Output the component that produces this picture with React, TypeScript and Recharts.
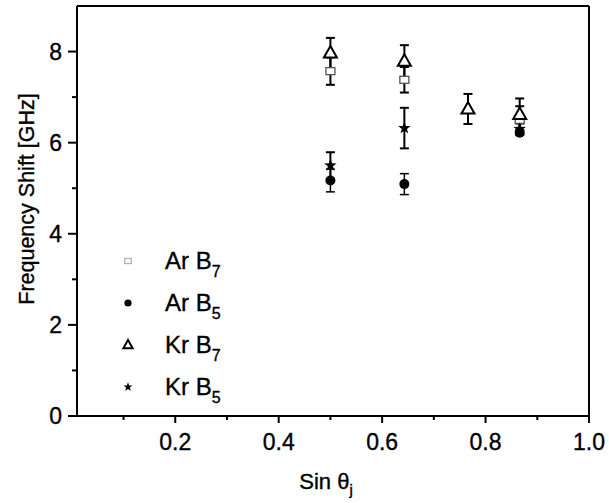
import { ScatterChart, Scatter, XAxis, YAxis, ErrorBar, Label } from "recharts";

const FONT = "Arial, 'Liberation Sans', Helvetica, sans-serif";

// axis ticks
const xMajor = [0.2, 0.4, 0.6, 0.8, 1.0];
const xMinor = [0.1, 0.3, 0.5, 0.7, 0.9];
const yMajor = [0, 2, 4, 6, 8];
const yMinor = [1, 3, 5, 7];

// sin(theta_i) of the measured points
const arB7X = [0.5, 0.643, 0.866];
const arB7Y = [7.57, 7.38, 6.5];
const arB7Err = [0.3, 0.28, 0.3];

const arB5X = [0.5, 0.643, 0.866];
const arB5Y = [5.17, 5.09, 6.22];
const arB5Err = [0.25, 0.23, 0.05];

const krB7X = [0.5, 0.643, 0.766, 0.866];
const krB7Y = [7.97, 7.79, 6.74, 6.62];
const krB7Err = [0.33, 0.35, 0.33, 0.35];

const krB5X = [0.5, 0.643, 0.866];
const krB5Y = [5.5, 6.32, 6.3];
const krB5Err = [0.29, 0.445, 0.12];

const legendNames = [
  { name: "Ar", sub: "7", shape: "square" },
  { name: "Ar", sub: "5", shape: "circle" },
  { name: "Kr", sub: "7", shape: "triangle" },
  { name: "Kr", sub: "5", shape: "star" },
];

const toRows = (xs: number[], ys: number[], es: number[]) =>
  xs.map((x, i) => ({ x, y: ys[i], err: es[i] }));

const arB7 = toRows(arB7X, arB7Y, arB7Err);
const arB5 = toRows(arB5X, arB5Y, arB5Err);
const krB7 = toRows(krB7X, krB7Y, krB7Err);
const krB5 = toRows(krB5X, krB5Y, krB5Err);

function starPath(cx: number, cy: number, ro: number, ri: number) {
  let d = "";
  for (let i = 0; i < 10; i++) {
    const r = i % 2 === 0 ? ro : ri;
    const a = -Math.PI / 2 + (i * Math.PI) / 5;
    d += (i === 0 ? "M" : "L") + (cx + r * Math.cos(a)).toFixed(2) + "," + (cy + r * Math.sin(a)).toFixed(2);
  }
  return d + "Z";
}

function Marker({ kind, cx, cy, small }: { kind: string; cx: number; cy: number; small?: boolean }) {
  const k = small ? 0.72 : 1;
  if (kind === "square") {
    const w = 9 * k, h = 7 * k;
    return (
      <rect x={cx - w / 2} y={cy - h / 2} width={w} height={h} fill="#fff"
        stroke={small ? "#b0b0b0" : "#555"} strokeWidth={1.3} />
    );
  }
  if (kind === "circle") return <circle cx={cx} cy={cy} r={5 * k} fill="#000" />;
  if (kind === "triangle") {
    const hw = 6.5 * k, h = 11.5 * k;
    return (
      <path d={`M${cx},${cy - h * 0.6}L${cx + hw},${cy + h * 0.4}L${cx - hw},${cy + h * 0.4}Z`}
        fill="#fff" stroke="#000" strokeWidth={2} strokeLinejoin="miter" />
    );
  }
  return <path d={starPath(cx, cy, 6.5 * k, 2.7 * k)} fill="#000" />;
}

// scanned original has slightly heavy glyphs
const heavy = { stroke: "#000", strokeWidth: 0.35 };
const tickText = { fontSize: 23, fontFamily: FONT, fill: "#000", ...heavy };

function BottomTick({ x, y, payload }: any) {
  const major = xMajor.includes(payload.value);
  return (
    <g>
      <line x1={x} y1={y} x2={x} y2={y + (major ? 7 : 4)} stroke="#000" strokeWidth={2} />
      {major && (
        <text x={x} y={y + 34} textAnchor="middle" {...tickText}>
          {payload.value.toFixed(1)}
        </text>
      )}
    </g>
  );
}

function TopTick({ x, y, payload }: any) {
  const major = xMajor.includes(payload.value);
  return <line x1={x} y1={y} x2={x} y2={y + (major ? 7 : 4)} stroke="#000" strokeWidth={2} />;
}

function LeftTick({ x, y, payload }: any) {
  const major = yMajor.includes(payload.value);
  return (
    <g>
      <line x1={x - (major ? 9 : 5)} y1={y} x2={x} y2={y} stroke="#000" strokeWidth={2} />
      {major && (
        <text x={x - 15} y={y + 8} textAnchor="end" {...tickText}>
          {payload.value}
        </text>
      )}
    </g>
  );
}

function RightTick({ x, y, payload }: any) {
  const major = yMajor.includes(payload.value);
  return <line x1={x - (major ? 8 : 4)} y1={y} x2={x} y2={y} stroke="#000" strokeWidth={2} />;
}

const XTitle = ({ viewBox }: any) => {
  const { x, y, width } = viewBox;
  return (
    <text x={x + width / 2 - 7} y={y + 73} textAnchor="middle" fontSize={22} fontFamily={FONT} fill="#000" {...heavy}>
      Sin θ<tspan dy={6} fontSize={15}>j</tspan>
    </text>
  );
};

const YTitle = ({ viewBox }: any) => {
  const { x, y, width, height } = viewBox;
  const cx = x + width - 43;
  const cy = y + height / 2 - 12;
  return (
    <text x={cx} y={cy} transform={`rotate(-90, ${cx}, ${cy})`} textAnchor="middle"
      fontSize={21.5} fontFamily={FONT} fill="#000" {...heavy}>
      Frequency Shift [GHz]
    </text>
  );
};

const axisLine = { stroke: "#000", strokeWidth: 2 };
const xTicks = [...xMinor, ...xMajor].sort((a, b) => a - b);
const yTicks = [...yMinor, ...yMajor].sort((a, b) => a - b);

export default function App() {
  return (
    <div style={{ position: "absolute", left: 0, top: 0, width: 609, height: 503, background: "#fff" }}>
      <ScatterChart width={609} height={503} margin={{ top: 5, right: 19, bottom: 86, left: 76 }}>
        <XAxis dataKey="x" type="number" domain={[0.01, 1]} ticks={xTicks} interval={0}
          height={1} tickSize={0} tickMargin={0} tickLine={false} axisLine={axisLine} tick={BottomTick}>
          <Label content={XTitle} />
        </XAxis>
        <XAxis xAxisId="top" orientation="top" type="number" domain={[0.01, 1]} ticks={xTicks} interval={0}
          height={1} tickSize={0} tickMargin={0} tickLine={false} axisLine={axisLine} tick={TopTick} />
        <YAxis dataKey="y" type="number" domain={[0, 9]} ticks={yTicks} interval={0}
          width={1} tickSize={0} tickMargin={0} tickLine={false} axisLine={axisLine} tick={LeftTick}>
          <Label content={YTitle} />
        </YAxis>
        <YAxis yAxisId="right" orientation="right" type="number" domain={[0, 9]} ticks={yTicks} interval={0}
          width={1} tickSize={0} tickMargin={0} tickLine={false} axisLine={axisLine} tick={RightTick} />

        <Scatter name="Ar B7" data={arB7} isAnimationActive={false}
          shape={(p: any) => <Marker kind="square" cx={p.cx} cy={p.cy} />}>
          <ErrorBar dataKey="err" direction="y" width={4.5} strokeWidth={2} stroke="#000" />
        </Scatter>
        <Scatter name="Ar B5" data={arB5} isAnimationActive={false}
          shape={(p: any) => <Marker kind="circle" cx={p.cx} cy={p.cy} />}>
          <ErrorBar dataKey="err" direction="y" width={4.5} strokeWidth={1.5} stroke="#000" />
        </Scatter>
        <Scatter name="Kr B5" data={krB5} isAnimationActive={false}
          shape={(p: any) => <Marker kind="star" cx={p.cx} cy={p.cy} />}>
          <ErrorBar dataKey="err" direction="y" width={4.5} strokeWidth={2} stroke="#000" />
        </Scatter>
        <Scatter name="Kr B7" data={krB7} isAnimationActive={false}
          shape={(p: any) => <Marker kind="triangle" cx={p.cx} cy={p.cy} />}>
          <ErrorBar dataKey="err" direction="y" width={4.5} strokeWidth={2} stroke="#000" />
        </Scatter>
      </ScatterChart>

      <div style={{ position: "absolute", left: 118, top: 240, fontFamily: FONT, color: "#000",
        WebkitTextStroke: "0.35px #000" }}>
        {legendNames.map((s) => (
          <div key={s.name + s.sub} style={{ display: "flex", alignItems: "center", height: 42 }}>
            <svg width={20} height={20} style={{ marginRight: 27 }}>
              <Marker kind={s.shape} cx={10} cy={10} small />
            </svg>
            <span style={{ fontSize: 24, lineHeight: 1 }}>
              {s.name} B
              <sub style={{ fontSize: 16, lineHeight: 0, verticalAlign: -8 }}>{s.sub}</sub>
            </span>
          </div>
        ))}
      </div>
    </div>
  );
}
